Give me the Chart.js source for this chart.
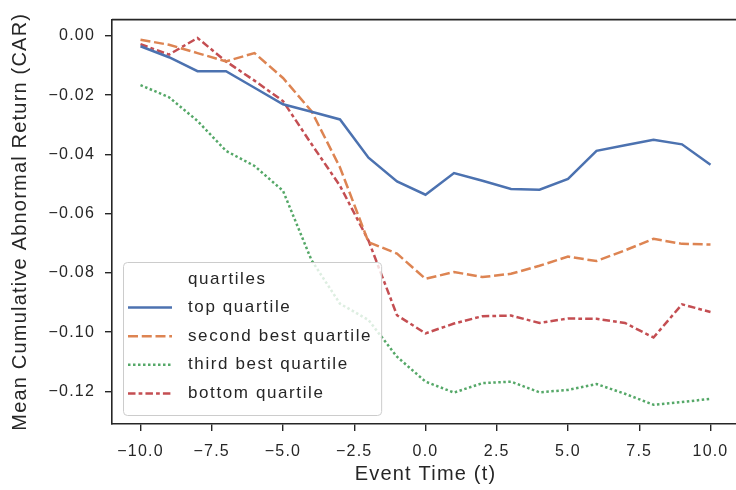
<!DOCTYPE html>
<html>
<head>
<meta charset="utf-8">
<script src="https://cdn.jsdelivr.net/npm/chart.js@4.4.0/dist/chart.umd.min.js"></script>
<style>
  html, body { margin: 0; padding: 0; background: #fff; overflow: hidden; }
</style>
</head>
<body>
<canvas id="carChart" width="740" height="490"></canvas>
<script>
// event window (days around the event) and axis ticks
const eventTime = [-10, -9, -8, -7, -6, -5, -4, -3, -2, -1, 0, 1, 2, 3, 4, 5, 6, 7, 8, 9, 10];
const xTicks = [-10, -7.5, -5, -2.5, 0, 2.5, 5, 7.5, 10];
const yTicks = [0, -0.02, -0.04, -0.06, -0.08, -0.10, -0.12];

// mean CAR per quartile
const topQuartile = [-0.0035, -0.0072, -0.0119, -0.0119, -0.0175, -0.0231, -0.0256, -0.0282, -0.0411, -0.0491, -0.0536,
  -0.0463, -0.0489, -0.0517, -0.0519, -0.0483, -0.0388, -0.0369, -0.0351, -0.0366, -0.0435];
const secondBest = [-0.0013, -0.0030, -0.0058, -0.0086, -0.0058, -0.0142, -0.0254, -0.0444, -0.0696, -0.0735, -0.0820,
  -0.0797, -0.0814, -0.0803, -0.0776, -0.0745, -0.0760, -0.0724, -0.0685, -0.0702, -0.0704];
const thirdBest = [-0.0166, -0.0207, -0.0287, -0.0388, -0.0439, -0.0523, -0.0757, -0.0904, -0.0959, -0.1083, -0.1167,
  -0.1204, -0.1172, -0.1167, -0.1203, -0.1195, -0.1175, -0.1208, -0.1245, -0.1236, -0.1225];
const bottomQuartile = [-0.0028, -0.0063, -0.0007, -0.0086, -0.0151, -0.0220, -0.0365, -0.0506, -0.0691, -0.0943, -0.1004,
  -0.0971, -0.0946, -0.0944, -0.0969, -0.0954, -0.0955, -0.0969, -0.1018, -0.0906, -0.0932];

const seriesNames = ['top quartile', 'second best quartile', 'third best quartile', 'bottom quartile'];
const legendTitle = 'quartiles';

const FONT = '"Liberation Sans", Arial, sans-serif';
const INK = '#262626';

function points(values) {
  return eventTime.map((t, i) => ({ x: t, y: values[i] }));
}

function signed(v, digits) {
  if (Math.abs(v) < 1e-9) return (0).toFixed(digits);
  return (v < 0 ? '\u2212' : '') + Math.abs(v).toFixed(digits);
}

// matplotlib text comes out a little wider than plain Arial
const textSpacing = {
  id: 'textSpacing',
  beforeLayout(chart) { chart.ctx.letterSpacing = '1.2px'; },
  beforeDraw(chart) { chart.ctx.letterSpacing = '1.2px'; }
};

// top spine
const frameTop = {
  id: 'frameTop',
  afterDraw(chart) {
    const { ctx, chartArea } = chart;
    ctx.save();
    ctx.strokeStyle = INK;
    ctx.lineWidth = 1.6;
    ctx.beginPath();
    ctx.moveTo(chartArea.left, chartArea.top);
    ctx.lineTo(chartArea.right, chartArea.top);
    ctx.stroke();
    ctx.restore();
  }
};

// legend in the lower left corner, like seaborn's "best" spot
const quartileLegend = {
  id: 'quartileLegend',
  afterDatasetsDraw(chart) {
    const ctx = chart.ctx;
    const area = chart.chartArea;
    const rowH = 28.6;
    const left = area.left + 11;
    const bottom = area.bottom - 9;
    const top = bottom - 153;

    ctx.save();
    ctx.font = '17px ' + FONT;
    ctx.letterSpacing = '1.6px';
    let maxW = ctx.measureText(legendTitle).width;
    chart.data.datasets.forEach(ds => { maxW = Math.max(maxW, ctx.measureText(ds.label).width); });
    const width = 65 + maxW + 9;

    ctx.beginPath();
    ctx.roundRect(left + 0.5, top + 0.5, width, bottom - top, 4);
    ctx.fillStyle = 'rgba(255,255,255,0.8)';
    ctx.fill();
    ctx.strokeStyle = '#cccccc';
    ctx.lineWidth = 1;
    ctx.stroke();

    ctx.fillStyle = INK;
    ctx.textAlign = 'left';
    ctx.textBaseline = 'middle';
    let y = top + 17;
    ctx.fillText(legendTitle, left + 65, y);
    chart.data.datasets.forEach(ds => {
      y += rowH;
      ctx.beginPath();
      ctx.setLineDash(ds.borderDash || []);
      ctx.strokeStyle = ds.borderColor;
      ctx.lineWidth = ds.borderWidth;
      ctx.moveTo(left + 5, y);
      ctx.lineTo(left + 49, y);
      ctx.stroke();
      ctx.setLineDash([]);
      ctx.fillText(ds.label, left + 65, y);
    });
    ctx.restore();
  }
};

function carChart() {
  const ctx = document.getElementById('carChart');
  const lineBase = { borderWidth: 2.5, pointRadius: 0, tension: 0, fill: false, borderCapStyle: 'butt' };

  new Chart(ctx, {
    type: 'line',
    data: {
      datasets: [
        Object.assign({ label: seriesNames[0], data: points(topQuartile), borderColor: '#4c72b0' }, lineBase),
        Object.assign({ label: seriesNames[1], data: points(secondBest), borderColor: '#dd8452', borderDash: [10, 3.75] }, lineBase),
        Object.assign({ label: seriesNames[2], data: points(thirdBest), borderColor: '#55a868', borderDash: [2.5, 2.5] }, lineBase),
        Object.assign({ label: seriesNames[3], data: points(bottomQuartile), borderColor: '#c44e52', borderDash: [7.5, 3.1, 3.75, 3.1] }, lineBase)
      ]
    },
    options: {
      responsive: false,
      animation: false,
      devicePixelRatio: 1,
      layout: { padding: { top: 18, right: 1, bottom: 0, left: 0 } },
      plugins: {
        legend: { display: false },
        tooltip: { enabled: false }
      },
      scales: {
        x: {
          type: 'linear',
          min: -11,
          max: 11,
          afterBuildTicks: s => { s.ticks = xTicks.map(v => ({ value: v })); },
          afterFit: s => { s.height = 66; },
          ticks: {
            color: INK,
            font: { family: FONT, size: 16 },
            padding: 11,
            autoSkip: false,
            maxRotation: 0,
            callback: v => signed(v, 1)
          },
          grid: { drawOnChartArea: false, drawTicks: true, tickLength: 7, color: INK, lineWidth: 1.4 },
          border: { color: INK, width: 1.6 },
          title: {
            display: true,
            text: 'Event Time (t)',
            color: INK,
            font: { family: FONT, size: 20 },
            padding: { top: 0, bottom: 4 }
          }
        },
        y: {
          type: 'linear',
          min: -0.131,
          max: 0.0055,
          afterBuildTicks: s => { s.ticks = yTicks.map(v => ({ value: v })); },
          afterFit: s => { s.width = 112; },
          ticks: {
            color: INK,
            font: { family: FONT, size: 16 },
            padding: 10,
            autoSkip: false,
            callback: v => signed(v, 2)
          },
          grid: { drawOnChartArea: false, drawTicks: true, tickLength: 7, color: INK, lineWidth: 1.4 },
          border: { color: INK, width: 1.6 },
          title: {
            display: true,
            text: 'Mean Cumulative Abnormal Return (CAR)',
            color: INK,
            font: { family: FONT, size: 20 },
            padding: { top: 8, bottom: 0 }
          }
        }
      }
    },
    plugins: [textSpacing, frameTop, quartileLegend]
  });
}

carChart();
</script>
</body>
</html>
